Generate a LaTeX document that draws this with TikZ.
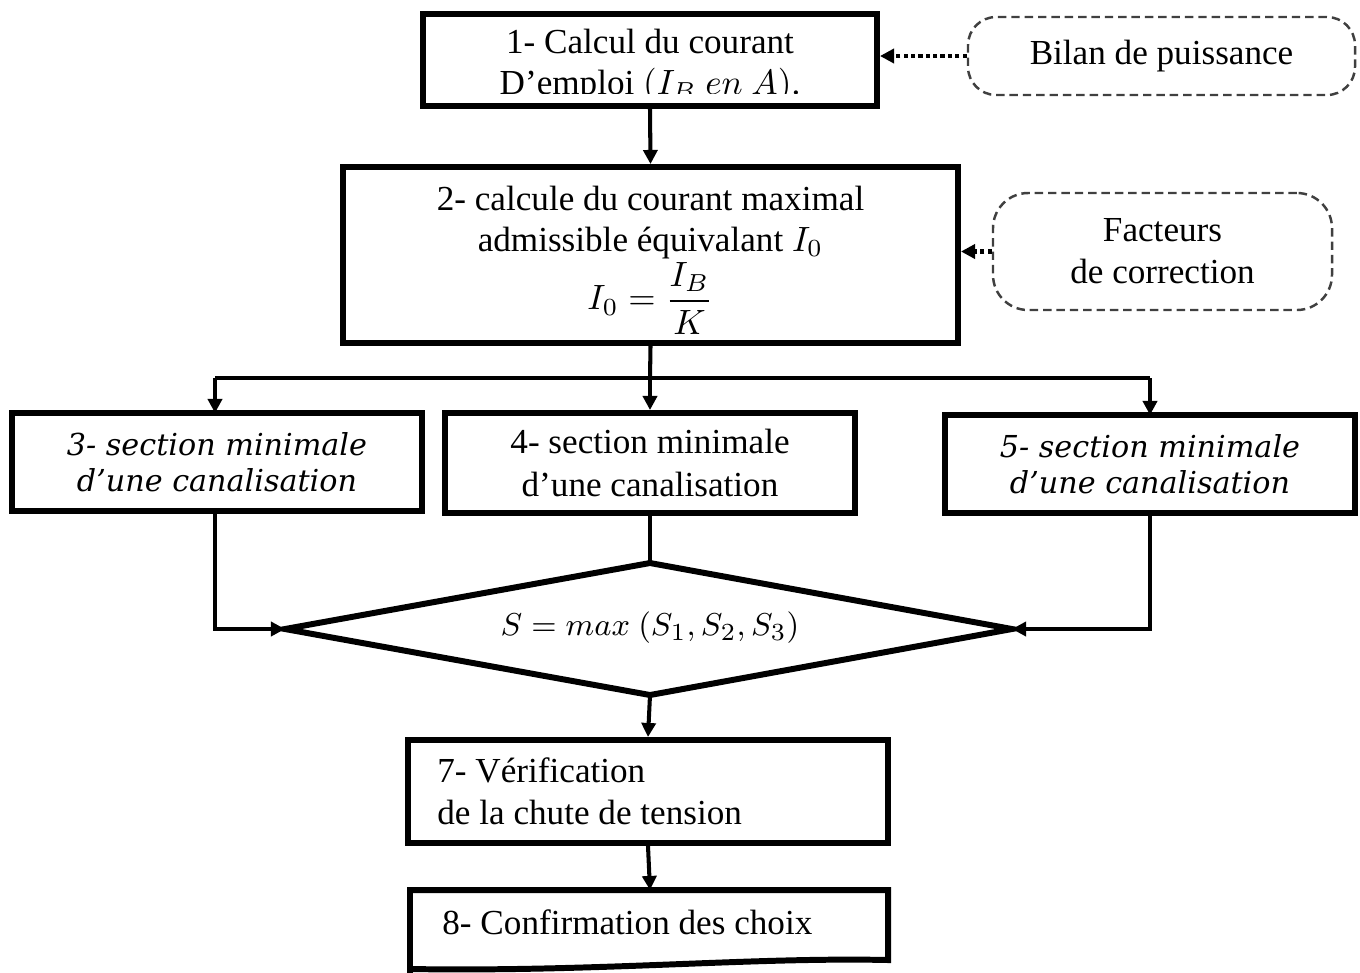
\documentclass[tikz,border=0pt]{standalone}
\usepackage{fontspec}
\setmainfont{Liberation Serif}
\newfontfamily\wideserif{DejaVu Serif}
\usetikzlibrary{arrows.meta}
\begin{document}
\begin{tikzpicture}[
  font=\fontsize{10}{12}\selectfont,
  box/.style={draw, line width=1.7pt, rectangle, inner sep=0pt, align=center},
  note/.style={draw=black!75, line width=0.7pt, dash pattern=on 2.4pt off 1.4pt,
    rounded corners=8pt, inner sep=0pt, align=center},
  flow/.style={line width=1.15pt, -{Triangle[length=4pt,width=4pt]}},
  plain/.style={line width=1.15pt},
  feed/.style={line width=1.15pt, dash pattern=on 1.2pt off 0.9pt, -{Triangle[length=4pt,width=4pt]}},
  itbox/.style={font=\wideserif\itshape\fontsize{8.6}{10.2}\selectfont}
]
\useasboundingbox (0,0) rectangle (13.6,-9.72);

% 1 - courant d'emploi (second line clipped by the lower border)
\begin{scope}
  \clip (4.25,-0.15) rectangle (8.75,-0.93);
  \node[align=center, font=\fontsize{10}{11.8}\selectfont] (t1) at (6.5,-0.66) {1- Calcul du courant\\D’emploi $(I_B\ en\ A)$.};
\end{scope}
\node[box, minimum width=4.54cm, minimum height=0.92cm] (b1) at (6.5,-0.60) {};

\node[note, minimum width=3.87cm, minimum height=0.78cm] (bil) at (11.615,-0.56)
  {Bilan de puissance};

% 2 - courant maximal admissible
\node[box, minimum width=6.15cm, minimum height=1.76cm] (b2) at (6.505,-2.55) {};
\node[align=center, font=\fontsize{10}{11.6}\selectfont] (t2) at (6.505,-2.60)
  {2- calcule du courant maximal\\admissible équivalant $I_0$\\[0pt]$\displaystyle I_0=\frac{I_B}{K}$};

\node[note, rounded corners=10pt, minimum width=3.39cm, minimum height=1.17cm] (fac) at (11.625,-2.515)
  {Facteurs\\de correction};

% sections
\node[box, itbox, minimum width=4.1cm, minimum height=0.98cm] (b3) at (2.17,-4.62)
  {3- section minimale\\d’une canalisation};
\node[box, minimum width=4.1cm, minimum height=1.0cm] (b4) at (6.5,-4.63)
  {4- section minimale\\d’une canalisation};
\node[box, itbox, minimum width=4.1cm, minimum height=0.98cm] (b5) at (11.5,-4.64)
  {5- section minimale\\d’une canalisation};

% decision
\coordinate (dl) at (2.85,-6.29);
\coordinate (dr) at (10.12,-6.29);
\coordinate (dt) at (6.5,-5.63);
\coordinate (db) at (6.5,-6.95);
\draw[line width=1.7pt, line join=miter] (dl) -- (dt) -- (dr) -- (db) -- cycle;
\node[font=\fontsize{9.4}{11}\selectfont] (s) at (6.5,-6.28) {$S = max\ (S_1, S_2, S_3)$};

% 7 - chute de tension
\node[box, minimum width=4.8cm, minimum height=1.03cm] (b7) at (6.48,-7.915) {};
\node[anchor=north west, align=left] (t7) at (4.25,-7.45) {7- Vérification\\de la chute de tension};

% 8 - confirmation (document shape)
\coordinate (b8n) at (6.5,-8.90);
\draw[line width=1.7pt, line join=miter]
  (4.10,-9.74) -- (4.10,-8.90) -- (8.88,-8.90) -- (8.88,-9.60)
  .. controls (7.5,-9.57) and (6.0,-9.72) .. (4.10,-9.69);
\node[anchor=west] (t8) at (4.30,-9.22) {8- Confirmation des choix};

% connectors
\draw[flow] (b1.south) -- (b2.north);
\draw[feed] (bil.west) -- (b1.east |- bil.west);
\draw[feed] (fac.west) -- (b2.east |- fac.west);

\coordinate (j) at (6.5,-3.78);
\draw[plain] (b2.south) -- (j);
\draw[plain] (2.15,-3.78) -- (11.5,-3.78);
\draw[flow] (2.15,-3.78) -- (2.15,-4.13);
\draw[flow] (j) -- (b4.north);
\draw[flow] (11.5,-3.78) -- (11.5,-4.15);

\draw[flow] (2.15,-5.11) |- (dl);
\draw[flow] (11.5,-5.13) |- (dr);
\draw[plain] (b4.south) -- (dt);
\draw[flow] (db) -- (b7.north);
\draw[flow] (b7.south) -- (b8n);
\end{tikzpicture}
\end{document}
